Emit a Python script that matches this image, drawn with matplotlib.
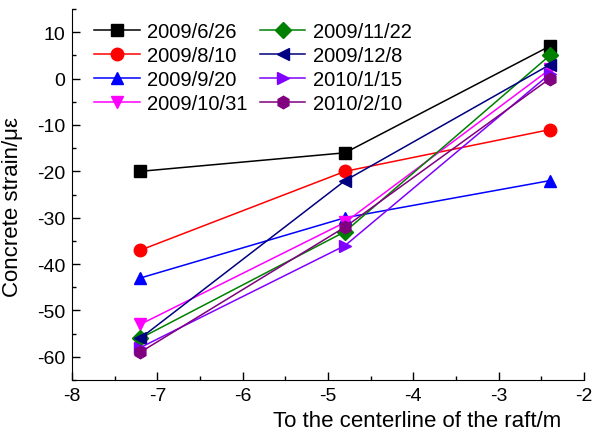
import matplotlib
matplotlib.use("Agg")
import matplotlib.pyplot as plt
from matplotlib.ticker import MultipleLocator

plt.rcParams['font.family'] = ['Liberation Sans', 'DejaVu Sans']
plt.rcParams['axes.unicode_minus'] = False

x = [-7.2, -4.8, -2.4]
labels = ["2009/6/26", "2009/8/10", "2009/9/20", "2009/10/31",
          "2009/11/22", "2009/12/8", "2010/1/15", "2010/2/10"]
s1 = [-20, -16, 7]
s2 = [-37, -20, -11]
s3 = [-43, -30, -22]
s4 = [-53, -31, 2]
s5 = [-56, -33, 5]
s6 = [-56, -22, 3]
s7 = [-58, -36, 1]
s8 = [-59, -32, 0]
series = [s1, s2, s3, s4, s5, s6, s7, s8]
colors = ["black", "red", "blue", "magenta", "green", "navy", "#8000ff", "purple"]
markers = ["s", "o", "^", "v", "D", "<", ">", "h"]
msizes = [8, 9, 9, 9, 8, 9, 9, 9]

fig = plt.figure(figsize=(5.92, 4.35), dpi=100)
ax = fig.add_axes([0.1216, 0.124, 0.8649, 0.853])
for ys, lab, c, m, ms in zip(series, labels, colors, markers, msizes):
    ax.plot(x, ys, color=c, marker=m, markersize=ms, linewidth=1.1, label=lab)

ax.set_xlim(-8, -2)
ax.set_ylim(-65, 15)
ax.xaxis.set_major_locator(MultipleLocator(1))
ax.xaxis.set_minor_locator(MultipleLocator(0.5))
ax.yaxis.set_major_locator(MultipleLocator(10))
ax.yaxis.set_minor_locator(MultipleLocator(5))
ax.tick_params(which='both', direction='in', labelsize=14, width=1)
ax.tick_params(which='major', length=6, pad=5)
ax.tick_params(which='minor', length=3)
ax.spines['top'].set_visible(False)
ax.spines['right'].set_visible(False)
ax.set_ylabel("Concrete strain/με", fontsize=16)
ax.yaxis.set_label_coords(-0.095, 0.47)
fig.text(0.705, 0.008, "To the centerline of the raft/m", fontsize=16, ha='center', va='bottom')

ax.legend(ncol=2, loc='upper left', frameon=False, fontsize=14.5,
          bbox_to_anchor=(0.008, 1.015), handlelength=2.25, handletextpad=0.35,
          labelspacing=0.25, columnspacing=0.65, borderpad=0.4)

fig.savefig("out.png", dpi=100)
